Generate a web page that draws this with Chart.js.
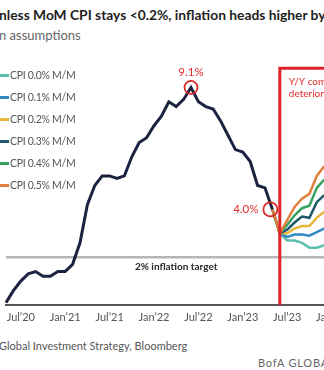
<!DOCTYPE html>
<html>
<head>
<meta charset="utf-8">
<script src="https://cdn.jsdelivr.net/npm/chart.js@4.4.0/dist/chart.umd.min.js"></script>
<style>
    html, body { margin: 0; padding: 0; background: #fff; }
    #wrap { position: relative; width: 324px; height: 370px; overflow: hidden; font-family: Lato, 'Open Sans', sans-serif; }
    #chart { position: absolute; left: 0; top: 0; }
    .title { position: absolute; left: -1px; top: 6px; font-weight: 700; font-size: 13.8px; color: #1e1e1e; white-space: nowrap; }
    .subtitle { position: absolute; left: -1px; top: 27px; font-size: 13px; color: #666; white-space: nowrap; }
    #legend { position: absolute; left: 0; top: 64px; }
    .legend-item { display: flex; align-items: center; height: 22px; font-size: 10.5px; letter-spacing: -0.3px; color: #555; white-space: nowrap; }
    .swatch { width: 9px; height: 3px; margin-right: 1px; }
    .source { position: absolute; left: -1px; top: 339px; font-size: 11px; color: #555; white-space: nowrap; }
    .brand { position: absolute; left: 258px; top: 356px; font-size: 11px; letter-spacing: 0.8px; color: #666; white-space: nowrap; }
</style>
</head>
<body>
<div id="wrap">
    <div class="title">nless MoM CPI stays &lt;0.2%, inflation heads higher by</div>
    <div class="subtitle">n assumptions</div>
    <canvas id="chart" width="345" height="327"></canvas>
    <div id="legend"></div>
    <div class="source">Global Investment Strategy, Bloomberg</div>
    <div class="brand">BofA GLOBAL RESEARCH</div>
</div>
<script>
// month labels, May 2020 .. Feb 2024
const months = [
    'May’20', 'Jun’20', 'Jul’20', 'Aug’20', 'Sep’20', 'Oct’20', 'Nov’20', 'Dec’20',
    'Jan’21', 'Feb’21', 'Mar’21', 'Apr’21', 'May’21', 'Jun’21', 'Jul’21', 'Aug’21', 'Sep’21', 'Oct’21', 'Nov’21', 'Dec’21',
    'Jan’22', 'Feb’22', 'Mar’22', 'Apr’22', 'May’22', 'Jun’22', 'Jul’22', 'Aug’22', 'Sep’22', 'Oct’22', 'Nov’22', 'Dec’22',
    'Jan’23', 'Feb’23', 'Mar’23', 'Apr’23', 'May’23', 'Jun’23', 'Jul’23', 'Aug’23', 'Sep’23', 'Oct’23', 'Nov’23', 'Dec’23',
    'Jan’24', 'Feb’24'
];

// CPI y/y, May 2020 .. May 2023
const cpiActual = [
    0.1, 0.6, 1.0, 1.3, 1.4, 1.2, 1.2, 1.4,
    1.4, 1.7, 2.6, 4.2, 5.0, 5.4, 5.4, 5.3, 5.4, 6.2, 6.8, 7.0,
    7.5, 7.9, 8.5, 8.3, 8.6, 9.1, 8.5, 8.3, 8.2, 7.7, 7.1, 6.5,
    6.4, 6.0, 5.0, 4.9, 4.0
];

// projections, May 2023 .. Dec 2023
const projStart = 'May’23';
const cpi00 = [4.0, 3.0, 2.7, 2.7, 2.6, 2.4, 2.4, 2.5];
const cpi01 = [4.0, 3.0, 2.85, 2.95, 2.95, 2.9, 3.05, 3.2];
const cpi02 = [4.0, 3.0, 3.0, 3.2, 3.3, 3.3, 3.65, 3.9];
const cpi03 = [4.0, 3.0, 3.15, 3.45, 3.7, 3.65, 4.3, 4.6];
const cpi04 = [4.0, 3.0, 3.35, 3.75, 4.05, 4.15, 4.9, 5.25];
const cpi05 = [4.0, 3.0, 3.55, 4.1, 4.45, 4.65, 5.4, 5.8];

const seriesNames = ['CPI 0.0% M/M', 'CPI 0.1% M/M', 'CPI 0.2% M/M', 'CPI 0.3% M/M', 'CPI 0.4% M/M', 'CPI 0.5% M/M'];
const seriesColors = ['#5cbfae', '#2f8bc4', '#e9b73e', '#1e5a6a', '#36a15f', '#e2813f'];
const seriesValues = [cpi00, cpi01, cpi02, cpi03, cpi04, cpi05];

const targetLevel = 2;
const targetLabelAt = 'Apr’22';
const peakAt = 'Jun’22';
const lastAt = 'May’23';
const splitAt = 'Jun’23';
const boxTop = 9.9;

const FONT = "Lato, 'Open Sans', sans-serif";
const RED = '#dd2a2a';

const padTo = (arr, start) => Array(months.indexOf(start)).fill(null).concat(arr);

const datasets = seriesValues.map((vals, i) => ({
    label: seriesNames[i],
    data: padTo(vals, projStart),
    borderColor: seriesColors[i],
    borderWidth: 2.5,
    pointRadius: 0,
    tension: 0,
    order: 10 - i
}));
datasets.push({
    label: 'CPI',
    data: cpiActual,
    borderColor: '#1c2340',
    borderWidth: 3,
    pointRadius: 0,
    tension: 0,
    order: 0
});

// annotations drawn from the scales
const overlay = {
    id: 'overlay',
    beforeDatasetsDraw(chart) {
        const { ctx, chartArea, scales: { x, y } } = chart;
        const yt = y.getPixelForValue(targetLevel);
        ctx.save();
        ctx.strokeStyle = '#b5b5b5';
        ctx.lineWidth = 2.5;
        ctx.beginPath();
        ctx.moveTo(chartArea.left, yt);
        ctx.lineTo(chartArea.right, yt);
        ctx.stroke();
        ctx.fillStyle = '#2a2a2a';
        ctx.font = 'bold 10px ' + FONT;
        ctx.textAlign = 'center';
        ctx.textBaseline = 'middle';
        ctx.fillText('2% inflation target', x.getPixelForValue(months.indexOf(targetLabelAt)), yt + 10);
        ctx.restore();
    },
    afterDatasetsDraw(chart) {
        const { ctx, chartArea, scales: { x, y } } = chart;
        ctx.save();
        // red box
        const xs = x.getPixelForValue(months.indexOf(splitAt));
        const yb = y.getPixelForValue(boxTop);
        ctx.strokeStyle = '#e0232a';
        ctx.lineWidth = 3;
        ctx.beginPath();
        ctx.moveTo(xs, y.getPixelForValue(0));
        ctx.lineTo(xs, yb);
        ctx.lineTo(chartArea.right + 10, yb);
        ctx.stroke();
        ctx.fillStyle = RED;
        ctx.font = '10px ' + FONT;
        ctx.textAlign = 'left';
        ctx.textBaseline = 'middle';
        ctx.fillText('Y/Y comps', xs + 9, yb + 13);
        ctx.fillText('deteriorate', xs + 9, yb + 25);

        // peak and last print
        ctx.strokeStyle = RED;
        ctx.lineWidth = 1.8;
        const px = x.getPixelForValue(months.indexOf(peakAt));
        const py = y.getPixelForValue(cpiActual[months.indexOf(peakAt)]);
        ctx.beginPath();
        ctx.arc(px, py, 6.5, 0, Math.PI * 2);
        ctx.stroke();
        ctx.font = '11.5px ' + FONT;
        ctx.textAlign = 'center';
        ctx.fillText('9.1%', px, py - 15);

        const lx = x.getPixelForValue(months.indexOf(lastAt)) - 2;
        const ly = y.getPixelForValue(cpiActual[months.indexOf(lastAt)]);
        ctx.beginPath();
        ctx.arc(lx, ly, 7, 0, Math.PI * 2);
        ctx.stroke();
        ctx.textAlign = 'right';
        ctx.fillText('4.0%', lx - 12, ly);
        ctx.restore();
    }
};

new Chart(document.getElementById('chart'), {
    type: 'line',
    data: { labels: months, datasets: datasets },
    options: {
        responsive: false,
        animation: false,
        layout: { padding: { top: 54, left: 0, right: 0, bottom: 0 } },
        plugins: { legend: { display: false }, tooltip: { enabled: false } },
        scales: {
            x: {
                grid: { display: false, drawTicks: false },
                border: { display: true, color: '#555', width: 2 },
                afterFit: (scale) => { scale.height = 22; },
                ticks: {
                    autoSkip: false,
                    maxRotation: 0,
                    padding: 6,
                    color: '#555',
                    font: { family: FONT, size: 11 },
                    callback: (val) => {
                        const m = months[val];
                        return (m.startsWith('Jan') || m.startsWith('Jul')) ? m : '';
                    }
                }
            },
            y: { display: false, min: 0, max: 10.5 }
        }
    },
    plugins: [overlay]
});

document.getElementById('legend').innerHTML = seriesNames.map((name, i) => `
    <div class="legend-item"><span class="swatch" style="background:${seriesColors[i]}"></span>${name}</div>
`).join('');
</script>
</body>
</html>
